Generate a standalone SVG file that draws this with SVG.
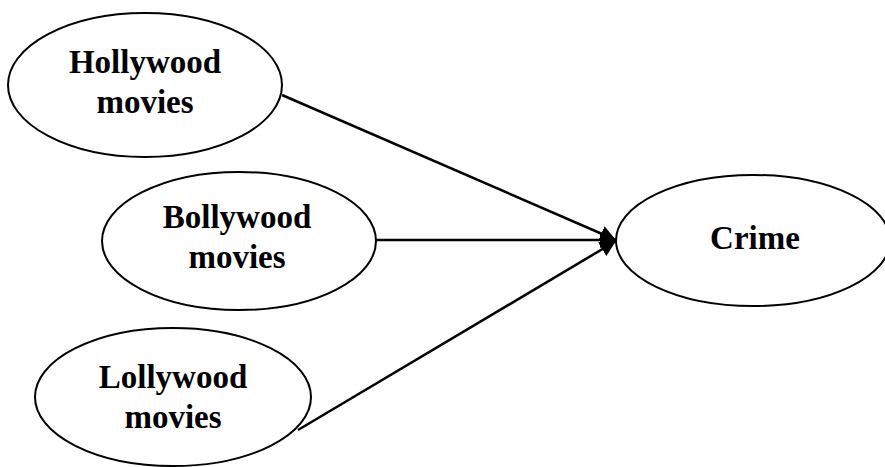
<svg xmlns="http://www.w3.org/2000/svg" width="885" height="467" viewBox="0 0 885 467">
<style>
.node ellipse{fill:#fff;stroke:#000;stroke-width:2}
.node text{font-family:"Liberation Serif","Times New Roman",serif;font-weight:bold;font-size:33px;fill:#000;text-anchor:middle}
.edges line{stroke:#000;stroke-width:2.5}
</style>
<defs>
<marker id="arrow" markerUnits="userSpaceOnUse" markerWidth="18" markerHeight="16" refX="16" refY="8" orient="auto">
<path d="M0,0 L16,8 L0,16 Z" fill="#000"/>
</marker>
</defs>
<rect width="885" height="467" fill="#fff"/>
<g class="edges">
<line x1="282" y1="95" x2="616" y2="240" marker-end="url(#arrow)"/>
<line x1="376" y1="240" x2="616" y2="240" marker-end="url(#arrow)"/>
<line x1="298" y1="430" x2="616" y2="241" marker-end="url(#arrow)"/>
</g>
<g id="hollywood" class="node">
<ellipse cx="145" cy="85" rx="137" ry="72"/>
<text x="145" y="73">Hollywood</text>
<text x="145" y="113">movies</text>
</g>
<g id="bollywood" class="node">
<ellipse cx="239" cy="241" rx="137" ry="69"/>
<text x="237" y="228">Bollywood</text>
<text x="237" y="268">movies</text>
</g>
<g id="lollywood" class="node">
<ellipse cx="173" cy="397" rx="138" ry="69"/>
<text x="173" y="388">Lollywood</text>
<text x="173" y="428">movies</text>
</g>
<g id="crime" class="node">
<ellipse cx="753" cy="240.5" rx="137" ry="65.5"/>
<text x="755" y="249">Crime</text>
</g>
</svg>
